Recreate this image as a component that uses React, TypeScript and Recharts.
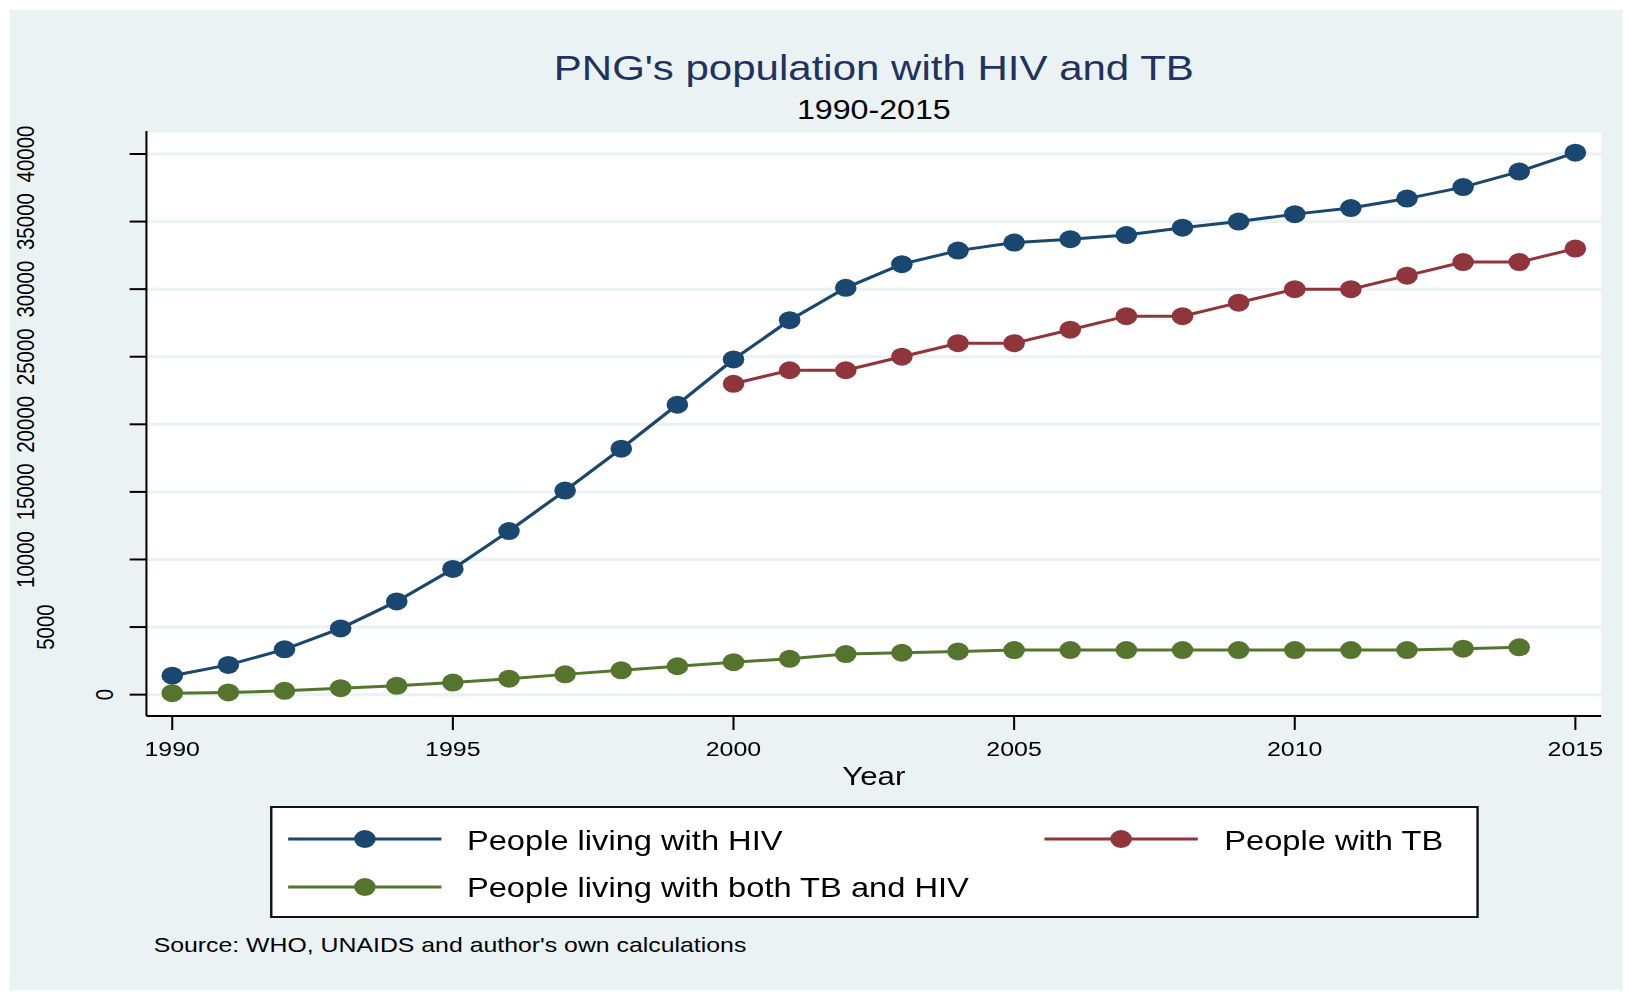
import React from 'react';
import { LineChart, Line, XAxis, YAxis, CartesianGrid } from 'recharts';

// values
const years = [
  1990, 1991, 1992, 1993, 1994, 1995, 1996, 1997, 1998, 1999, 2000, 2001, 2002,
  2003, 2004, 2005, 2006, 2007, 2008, 2009, 2010, 2011, 2012, 2013, 2014, 2015,
];
const hivValues = [
  1400, 2200, 3350, 4900, 6900, 9300, 12100, 15100, 18200, 21450, 24800, 27700, 30100,
  31850, 32850, 33450, 33700, 34000, 34550, 35000, 35550, 36000, 36700, 37550, 38700, 40100,
];
const tbValues = [
  null, null, null, null, null, null, null, null, null, null, 23000, 24000, 24000,
  25000, 26000, 26000, 27000, 28000, 28000, 29000, 30000, 30000, 31000, 32000, 32000, 33000,
];
const bothValues = [
  110, 160, 280, 480, 650, 890, 1180, 1500, 1800, 2100, 2400, 2650, 3000,
  3100, 3200, 3300, 3300, 3300, 3300, 3300, 3300, 3300, 3300, 3400, 3500, null,
];
const yTicks = [0, 5000, 10000, 15000, 20000, 25000, 30000, 35000, 40000];
const xTicks = [1990, 1995, 2000, 2005, 2010, 2015];

const seriesNames = [
  'People living with HIV',
  'People with TB',
  'People living with both TB and HIV',
];

const BLUE = '#1a476f';
const RED = '#90353b';
const GREEN = '#55752f';
const BG = '#eaf2f3';
const FONT = '"Liberation Sans", Arial, Helvetica, sans-serif';

// the reference is stretched sideways, so draw narrower and scale x
const W = 1358;
const H = 992;
const K = 1630 / W;

const data = years.map((year, i) => ({
  year,
  hiv: hivValues[i],
  tb: tbValues[i],
  both: bothValues[i],
}));

const YTick = (props: any) => {
  const { x, y, payload } = props;
  const label = String(payload.value);
  const cx = x - 2 - 16.5 * label.length;
  return (
    <text
      transform={`translate(${cx},${y}) rotate(-90)`}
      textAnchor="middle"
      dominantBaseline="central"
      fontSize={20.5}
      fontFamily={FONT}
      fill="#000"
    >
      {label}
    </text>
  );
};

const XTick = (props: any) => {
  const { x, y, payload } = props;
  return (
    <text x={x} y={y} dy={26} textAnchor="middle" fontSize={20.8} fontFamily={FONT} fill="#000">
      {payload.value}
    </text>
  );
};

const Swatch = ({ color }: { color: string }) => (
  <svg width={128} height={24} style={{ display: 'block' }}>
    <line x1={0} y1={12} x2={128} y2={12} stroke={color} strokeWidth={3} />
    <circle cx={64} cy={12} r={9} fill={color} />
  </svg>
);

const textStyle = (fs: number): React.CSSProperties => ({
  position: 'absolute',
  fontSize: fs,
  lineHeight: `${fs}px`,
  fontFamily: FONT,
  whiteSpace: 'nowrap',
});

export default function App() {
  const legendItems = [
    { name: seriesNames[0], color: BLUE, left: 240, textLeft: 389, row: 0 },
    { name: seriesNames[1], color: RED, left: 870, textLeft: 1020, row: 0 },
    { name: seriesNames[2], color: GREEN, left: 240, textLeft: 389, row: 1 },
  ];
  const rowY = [839, 887];
  const rowBase = [850, 897];

  return (
    <div style={{ position: 'absolute', left: 0, top: 0, width: 1630, height: H, background: '#fff', overflow: 'hidden' }}>
      <div
        style={{
          position: 'absolute',
          left: 0,
          top: 0,
          width: W,
          height: H,
          transform: `scaleX(${K})`,
          transformOrigin: '0 0',
        }}
      >
        <div style={{ position: 'absolute', left: 7.5, top: 10, width: 1344, height: 980, background: BG }} />

        <div style={{ ...textStyle(35), left: 122, width: 1212, top: 79.5 - 0.8465 * 35, textAlign: 'center', color: '#22325f' }}>
          PNG's population with HIV and TB
        </div>
        <div style={{ ...textStyle(26.8), left: 122, width: 1212, top: 119.5 - 0.8465 * 26.8, textAlign: 'center', color: '#000' }}>
          1990-2015
        </div>

        <div style={{ position: 'absolute', left: 0, top: 0 }}>
          <LineChart width={W} height={H} data={data} margin={{ top: 131, right: 24, left: 0, bottom: 246 }}>
            <CartesianGrid vertical={false} stroke={BG} strokeWidth={3} fill="#ffffff" />
            <XAxis
              dataKey="year"
              type="number"
              domain={[1989.54, 2015.46]}
              allowDataOverflow
              ticks={xTicks}
              interval={0}
              height={30}
              tickSize={14}
              tickMargin={0}
              axisLine={{ stroke: '#000', strokeWidth: 2 }}
              tickLine={{ stroke: '#000', strokeWidth: 1.7 }}
              tick={<XTick />}
            />
            <YAxis
              type="number"
              domain={[-1580, 41700]}
              allowDataOverflow
              ticks={yTicks}
              interval={0}
              width={122}
              tickSize={14}
              axisLine={{ stroke: '#000', strokeWidth: 1.7 }}
              tickLine={{ stroke: '#000', strokeWidth: 2 }}
              tick={<YTick />}
            />
            <Line
              type="linear"
              dataKey="hiv"
              name={seriesNames[0]}
              stroke={BLUE}
              strokeWidth={3}
              dot={{ r: 9, fill: BLUE, stroke: 'none' }}
              isAnimationActive={false}
            />
            <Line
              type="linear"
              dataKey="tb"
              name={seriesNames[1]}
              stroke={RED}
              strokeWidth={3}
              dot={{ r: 9, fill: RED, stroke: 'none' }}
              isAnimationActive={false}
            />
            <Line
              type="linear"
              dataKey="both"
              name={seriesNames[2]}
              stroke={GREEN}
              strokeWidth={3}
              dot={{ r: 9, fill: GREEN, stroke: 'none' }}
              isAnimationActive={false}
            />
          </LineChart>
        </div>

        <div style={{ ...textStyle(26), left: 122, width: 1212, top: 785 - 0.8465 * 26, textAlign: 'center', color: '#000' }}>
          Year
        </div>

        {/* legend */}
        <div
          style={{
            position: 'absolute',
            left: 224.5,
            top: 806,
            width: 1007.5,
            height: 112,
            boxSizing: 'border-box',
            border: '2px solid #111',
            background: '#fff',
          }}
        />
        {legendItems.map((it) => (
          <React.Fragment key={it.name}>
            <div style={{ position: 'absolute', left: it.left, top: rowY[it.row] - 12 }}>
              <Swatch color={it.color} />
            </div>
            <div style={{ ...textStyle(27.2), left: it.textLeft, top: rowBase[it.row] - 0.8465 * 27.2, color: '#000' }}>
              {it.name}
            </div>
          </React.Fragment>
        ))}

        <div style={{ ...textStyle(20.7), left: 128, top: 953 - 0.8465 * 20.7, color: '#000' }}>
          Source: WHO, UNAIDS and author's own calculations
        </div>
      </div>
    </div>
  );
}
